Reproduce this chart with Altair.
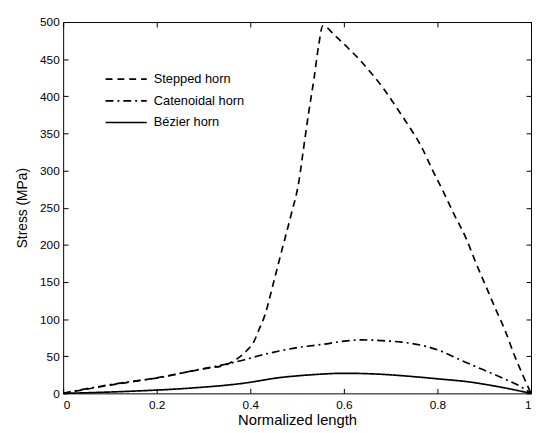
import altair as alt
import pandas as pd

# ---- data ----
step_x = [0, 0.1, 0.2, 0.3, 0.35, 0.368, 0.393, 0.408, 0.418, 0.431, 0.45, 0.468, 0.487,
          0.504, 0.513, 0.525, 0.536, 0.546, 0.555, 0.582, 0.609, 0.634, 0.66, 0.683,
          0.704, 0.723, 0.744, 0.765, 0.79, 0.813, 0.834, 0.861, 0.882, 0.903, 0.924,
          0.945, 0.964, 0.985, 1.0]
step_y = [0, 11, 21, 33, 39, 45, 58, 70, 85, 105, 150, 194, 240, 286, 326, 379, 423, 468,
          495, 481, 465, 449, 430, 412, 393, 375, 355, 333, 300, 271, 243, 209, 176, 145,
          114, 84, 52, 21, 0]

cat_x = [0, 0.04, 0.134, 0.204, 0.273, 0.33, 0.386, 0.414, 0.462, 0.504, 0.555, 0.597,
         0.639, 0.68, 0.723, 0.771, 0.807, 0.849, 0.897, 0.945, 0.981, 1.0]
cat_y = [0, 5, 15, 21, 30, 37, 45, 50, 57, 62, 66, 70, 72, 71, 69, 64, 57, 45, 32, 19, 8, 0]

bez_x = [0, 0.06, 0.15, 0.27, 0.39, 0.46, 0.53, 0.60, 0.67, 0.74, 0.81, 0.86, 0.93, 1.0]
bez_y = [0, 1, 3, 7, 14, 21, 25, 27, 26, 23, 19, 16, 9, 0]

series_names = ["Stepped horn", "Catenoidal horn", "Bézier horn"]
dash_styles = [[7, 5], [8, 4, 2, 4], [1, 0]]

x_ticks = [0, 0.2, 0.4, 0.6, 0.8, 1]
y_ticks = [0, 50, 100, 150, 200, 250, 300, 350, 400, 450, 500]

W, H = 475, 377
TICK = 5
FONT = "Liberation Sans"

rows = []
for name, xs, ys in zip(series_names, [step_x, cat_x, bez_x], [step_y, cat_y, bez_y]):
    for i, (a, b) in enumerate(zip(xs, ys)):
        rows.append({"series": name, "x": a, "y": b, "i": i})
df = pd.DataFrame(rows)

xscale = alt.Scale(domain=[0, 1], nice=False)
yscale = alt.Scale(domain=[0, 500], nice=False)

chart = alt.Chart(df).mark_line(color="black", strokeWidth=1.7, interpolate="monotone").encode(
    x=alt.X("x:Q", scale=xscale,
            axis=alt.Axis(title="Normalized length", values=x_ticks, labelExpr="'' + datum.value",
                          ticks=False, domain=False,
                          grid=True, gridColor="black", gridOpacity=1, gridWidth=1,
                          gridDash=[TICK, H - 2 * TICK, TICK],
                          labelPadding=6, titlePadding=3, labelFontSize=12, titleFontSize=15,
                          labelOverlap=False,
                          labelColor="black", titleColor="black", labelFont=FONT, titleFont=FONT,
                          labelFontWeight="normal", titleFontWeight="normal")),
    y=alt.Y("y:Q", scale=yscale,
            axis=alt.Axis(title="Stress (MPa)", values=y_ticks, ticks=False, domain=False,
                          grid=True, gridColor="black", gridOpacity=1, gridWidth=1,
                          gridDash=[TICK, W - 2 * TICK, TICK],
                          labelPadding=4, titlePadding=10, labelFontSize=12,
                          labelOverlap=False,
                          titleFontSize=14, labelColor="black", titleColor="black",
                          labelFont=FONT, titleFont=FONT, titleFontWeight="normal")),
    strokeDash=alt.StrokeDash("series:N",
                              scale=alt.Scale(domain=series_names, range=dash_styles),
                              legend=alt.Legend(title=None, orient="none", legendX=52, legendY=46,
                                                symbolType="M-1.9,0H1.9", symbolSize=484,
                                                symbolStrokeWidth=1.7, symbolStrokeColor="black",
                                                labelFontSize=13, labelFont=FONT,
                                                labelColor="black", labelOffset=16,
                                                rowPadding=3)),
    order="i:Q",
).properties(
    width=W, height=H,
    autosize=alt.AutoSizeParams(type="none"),
    padding={"left": 56, "top": 11, "right": 1, "bottom": 37},
    background="white",
).configure_view(stroke="black", strokeWidth=1)

chart.save("out.html", embed_options={"renderer": "svg", "actions": False})
